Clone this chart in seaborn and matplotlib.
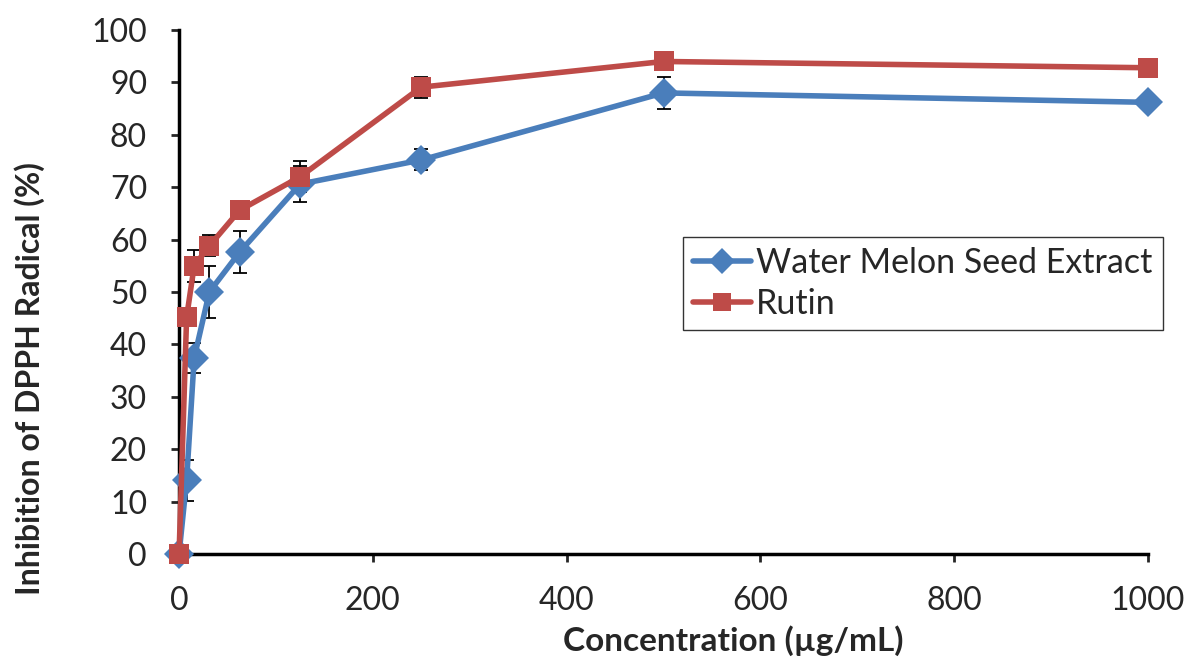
import matplotlib
matplotlib.use("Agg")
import matplotlib.pyplot as plt
import pandas as pd
import seaborn as sns

# Data
conc = [0, 7.8, 15.6, 31.25, 62.5, 125, 250, 500, 1000]
seed = [0, 14.1, 37.4, 50.0, 57.6, 70.6, 75.2, 88.0, 86.2]
seed_err = [0, 3.9, 2.9, 5.0, 4.0, 3.4, 2.0, 3.0, 0.5]
rutin = [0, 45.2, 55.0, 58.8, 65.6, 72.0, 89.1, 94.0, 92.8]
rutin_err = [0, 0.8, 3.0, 2.0, 1.0, 3.0, 2.0, 0.8, 1.5]

names = ["Water Melon Seed Extract", "Rutin"]
colors = ["#4A7EBB", "#BE4B48"]
markers = ["D", "s"]

df = pd.DataFrame({
    "Concentration": conc * 2,
    "Inhibition": seed + rutin,
    "err": seed_err + rutin_err,
    "Sample": [names[0]] * len(conc) + [names[1]] * len(conc),
})

sns.set_style("white")
plt.rcParams["font.family"] = ["Lato", "DejaVu Sans"]

fig = plt.figure(figsize=(11.89, 6.6), dpi=100)
ax = fig.add_axes([0.1506, 0.1606, 0.8149, 0.7939])

# Error bars
for name, c in zip(names, colors):
    sub = df[df["Sample"] == name]
    ax.errorbar(sub["Concentration"], sub["Inhibition"], yerr=sub["err"],
                fmt="none", ecolor="black", elinewidth=1.3, capsize=5,
                capthick=1.3, zorder=2, clip_on=False)

sns.lineplot(data=df, x="Concentration", y="Inhibition", hue="Sample",
             style="Sample", palette=colors, markers=markers, dashes=False,
             linewidth=4, markersize=15, markeredgewidth=0, ax=ax,
             zorder=3, clip_on=False)

ax.set_xlim(0, 1000)
ax.set_ylim(0, 100)
ax.set_xticks(range(0, 1001, 200))
ax.set_yticks(range(0, 101, 10))
ax.tick_params(axis="both", labelsize=23, direction="out", length=6,
               width=2, left=True, bottom=True, pad=17)
for s in ["top", "right"]:
    ax.spines[s].set_visible(False)
for s in ["left", "bottom"]:
    ax.spines[s].set_linewidth(2.5)
    ax.spines[s].set_color("black")

ax.set_xlabel("Concentration (µg/mL)", fontsize=24, fontweight="bold")
ax.set_ylabel("Inhibition of DPPH Radical (%)", fontsize=23, fontweight="bold")
ax.xaxis.set_label_coords(0.572, -0.135)
ax.yaxis.set_label_coords(-0.138, 0.334)

leg = ax.legend(loc="upper left", bbox_to_anchor=(0.52, 0.605), fontsize=24.5,
                frameon=True, fancybox=False, edgecolor="black",
                handlelength=1.7, handletextpad=0.15, borderpad=0.3,
                labelspacing=0.25, borderaxespad=0, markerscale=0.85)
leg.get_frame().set_linewidth(1.0)

fig.savefig("out.png", dpi=100)
